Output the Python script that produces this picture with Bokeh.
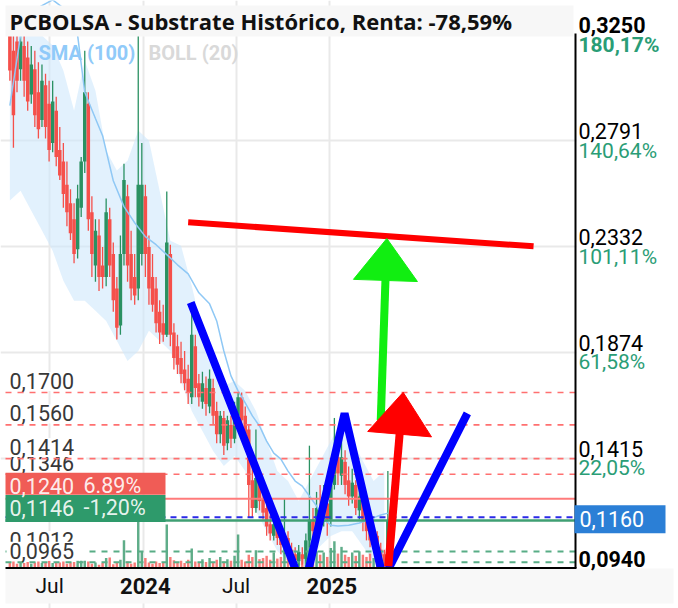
import math
import pandas as pd
from bokeh.plotting import figure
from bokeh.models import Range1d, FixedTicker
from bokeh.embed import file_html
from bokeh.resources import INLINE
from bokeh.core.properties import value

# ------------------------------------------------------------------ data
title_text = "PCBOLSA - Substrate Histórico, Renta: -78,59%"

first_week = "2023-04-14"
opens = [0.3267, 0.3180, 0.3220, 0.3100, 0.3200, 0.3150, 0.2990, 0.3100, 0.3000, 0.2880,
         0.3030, 0.2950, 0.2780, 0.2920, 0.2750, 0.2700, 0.2600, 0.2520, 0.2450, 0.2320,
         0.2500, 0.2700, 0.2950, 0.2480, 0.2250, 0.2380, 0.2250, 0.2200, 0.2450, 0.2300,
         0.2150, 0.1990, 0.2300, 0.2550, 0.2300, 0.2200, 0.2150, 0.2300, 0.2550, 0.2330,
         0.2200, 0.2150, 0.2050, 0.2000, 0.1950, 0.2300, 0.1960, 0.1900, 0.1850, 0.1800,
         0.1760, 0.1680, 0.1900, 0.1740, 0.1660, 0.1720, 0.1640, 0.1720, 0.1620, 0.1520,
         0.1590, 0.1480, 0.1560, 0.1500, 0.1600, 0.1680, 0.1600, 0.1540, 0.1320, 0.1200,
         0.1320, 0.1240, 0.1200, 0.1130, 0.1080, 0.1120, 0.1080, 0.1030, 0.1070, 0.1020,
         0.1000, 0.0970, 0.1000, 0.0980, 0.1060, 0.1150, 0.1100, 0.1200, 0.1140, 0.1220,
         0.1150, 0.1300, 0.1420, 0.1340, 0.1400, 0.1320, 0.1250, 0.1300, 0.1190, 0.1240,
         0.1160, 0.1110, 0.1050, 0.1080, 0.1020, 0.1000, 0.0970]
highs = [0.3300, 0.3267, 0.3267, 0.3260, 0.3267, 0.3220, 0.3200, 0.3180, 0.3130, 0.3120,
         0.3080, 0.3050, 0.3050, 0.2980, 0.2850, 0.2780, 0.2700, 0.2580, 0.2520, 0.2600,
         0.2720, 0.3180, 0.3000, 0.2550, 0.2450, 0.2450, 0.2330, 0.2540, 0.2500, 0.2350,
         0.2200, 0.2380, 0.2690, 0.2600, 0.2400, 0.2300, 0.3300, 0.2780, 0.2600, 0.2380,
         0.2300, 0.2200, 0.2100, 0.2080, 0.2570, 0.2340, 0.2000, 0.1950, 0.1920, 0.1880,
         0.1820, 0.2090, 0.1950, 0.1780, 0.1790, 0.1770, 0.1800, 0.1760, 0.1660, 0.1620,
         0.1620, 0.1600, 0.1600, 0.1660, 0.1700, 0.1700, 0.1640, 0.1560, 0.1400, 0.1540,
         0.1350, 0.1280, 0.1240, 0.1170, 0.1160, 0.1150, 0.1120, 0.1240, 0.1100, 0.1050,
         0.1030, 0.1040, 0.1030, 0.1090, 0.1470, 0.1200, 0.1270, 0.1300, 0.1300, 0.1260,
         0.1380, 0.1590, 0.1480, 0.1530, 0.1450, 0.1380, 0.1370, 0.1320, 0.1300, 0.1270,
         0.1200, 0.1150, 0.1120, 0.1100, 0.1050, 0.1020, 0.1360]
lows = [0.3050, 0.2760, 0.3000, 0.3050, 0.2980, 0.2920, 0.2950, 0.2850, 0.2800, 0.2850,
        0.2800, 0.2700, 0.2740, 0.2680, 0.2620, 0.2500, 0.2420, 0.2360, 0.2260, 0.2280,
        0.2460, 0.2650, 0.2400, 0.2200, 0.2180, 0.2140, 0.2150, 0.2160, 0.2200, 0.2050,
        0.1930, 0.1950, 0.2250, 0.2180, 0.2100, 0.2080, 0.2100, 0.2250, 0.2200, 0.2080,
        0.2050, 0.1960, 0.1910, 0.1920, 0.1940, 0.1900, 0.1800, 0.1780, 0.1740, 0.1710,
        0.1650, 0.1650, 0.1680, 0.1640, 0.1630, 0.1600, 0.1610, 0.1560, 0.1480, 0.1480,
        0.1430, 0.1450, 0.1460, 0.1480, 0.1570, 0.1540, 0.1490, 0.1160, 0.1160, 0.1180,
        0.1190, 0.1150, 0.1080, 0.1060, 0.1060, 0.1040, 0.1000, 0.1000, 0.0980, 0.0965,
        0.0955, 0.0950, 0.0955, 0.0960, 0.1030, 0.1060, 0.1080, 0.1110, 0.1120, 0.1080,
        0.1120, 0.1280, 0.1300, 0.1300, 0.1260, 0.1210, 0.1220, 0.1170, 0.1150, 0.1100,
        0.1060, 0.1030, 0.1020, 0.0990, 0.0965, 0.0950, 0.0960]
closes = [0.3094, 0.2900, 0.3050, 0.3220, 0.3050, 0.2960, 0.3120, 0.2900, 0.2840, 0.3050,
          0.2850, 0.2750, 0.2960, 0.2720, 0.2640, 0.2560, 0.2480, 0.2390, 0.2300, 0.2540,
          0.2700, 0.3000, 0.2450, 0.2300, 0.2400, 0.2200, 0.2200, 0.2480, 0.2250, 0.2100,
          0.1980, 0.2300, 0.2620, 0.2250, 0.2150, 0.2120, 0.2600, 0.2600, 0.2300, 0.2150,
          0.2080, 0.2000, 0.1960, 0.1950, 0.2350, 0.1950, 0.1850, 0.1820, 0.1780, 0.1740,
          0.1700, 0.1950, 0.1720, 0.1680, 0.1740, 0.1650, 0.1760, 0.1600, 0.1520, 0.1600,
          0.1470, 0.1580, 0.1500, 0.1620, 0.1680, 0.1580, 0.1520, 0.1300, 0.1200, 0.1330,
          0.1230, 0.1180, 0.1120, 0.1090, 0.1130, 0.1070, 0.1040, 0.1080, 0.1010, 0.0990,
          0.0975, 0.1010, 0.0980, 0.1060, 0.1150, 0.1100, 0.1200, 0.1140, 0.1230, 0.1150,
          0.1300, 0.1420, 0.1350, 0.1420, 0.1300, 0.1250, 0.1310, 0.1200, 0.1250, 0.1150,
          0.1100, 0.1060, 0.1090, 0.1020, 0.0990, 0.0970, 0.1146]
volumes = [1.0, 1.2, 0.8, 1.0, 0.9, 1.1, 0.8, 1.0, 1.2, 0.9,
           1.0, 1.3, 0.9, 1.1, 1.0, 1.2, 0.8, 1.0, 1.1, 1.4,
           1.6, 6.5, 1.2, 0.8, 1.0, 0.6, 0.9, 1.8, 1.9, 0.7,
           1.0, 1.5, 5.0, 1.2, 0.8, 1.0, 8.5, 3.0, 1.8, 1.0,
           0.8, 1.2, 0.9, 1.1, 7.8, 2.0, 1.4, 1.0, 1.3, 0.9,
           1.5, 3.5, 1.2, 1.0, 1.6, 1.1, 1.8, 1.0, 1.5, 2.0,
           1.2, 1.6, 1.3, 2.2, 6.0, 1.5, 1.2, 2.4, 2.0, 3.2,
           1.6, 1.8, 2.2, 1.5, 2.8, 1.7, 2.0, 3.5, 2.2, 3.0,
           1.8, 2.4, 2.0, 3.2, 5.5, 2.6, 3.0, 2.4, 2.8, 2.0,
           3.6, 4.8, 2.6, 3.8, 2.4, 2.0, 2.8, 2.2, 3.0, 2.4,
           2.0, 2.6, 1.8, 2.2, 1.6, 2.0, 4.5]

# Bollinger band (20) read every third week
band_weeks = list(range(0, 107, 3))
band_upper = [0.3267, 0.3267, 0.3267, 0.3246, 0.3202, 0.3094, 0.2921, 0.3137, 0.3007, 0.2747,
              0.2661, 0.2704, 0.2834, 0.2791, 0.2574, 0.2357, 0.2336, 0.2162, 0.1967, 0.1794,
              0.1729, 0.1750, 0.1707, 0.1620, 0.1490, 0.1360, 0.1317, 0.1230, 0.1317, 0.1404,
              0.1490, 0.1577, 0.1490, 0.1404, 0.1317, 0.1360]
band_lower = [0.2531, 0.2574, 0.2487, 0.2401, 0.2314, 0.2184, 0.2097, 0.2097, 0.2054, 0.2010,
              0.1924, 0.1837, 0.1880, 0.1967, 0.1924, 0.1880, 0.1750, 0.1620, 0.1534, 0.1447,
              0.1382, 0.1425, 0.1360, 0.1187, 0.1100, 0.1014, 0.0970, 0.0949, 0.0970, 0.1035,
              0.1079, 0.1100, 0.1100, 0.1035, 0.0970, 0.0949]

# SMA (100)
sma_weeks = [0, 3, 6, 12, 18, 19, 21, 24, 26, 29, 32, 35, 38, 41, 44, 47, 50, 53, 56, 58,
             60, 62, 64, 66, 68, 70, 72, 74, 76, 78, 80, 82, 84, 86, 88, 90, 92, 95, 98, 101,
             104, 106]
sma_vals = [0.2942, 0.3246, 0.3350, 0.3400, 0.3330, 0.3246, 0.3000, 0.2886, 0.2812, 0.2617,
            0.2505, 0.2435, 0.2375, 0.2340, 0.2297, 0.2253, 0.2214, 0.2132, 0.2084, 0.2010,
            0.1880, 0.1772, 0.1707, 0.1655, 0.1599, 0.1555, 0.1490, 0.1438, 0.1412, 0.1360,
            0.1317, 0.1295, 0.1252, 0.1209, 0.1152, 0.1126, 0.1122, 0.1126, 0.1135, 0.1152,
            0.1170, 0.1178]

# horizontal levels
red_dash_levels = [0.1700, 0.1560, 0.1414, 0.1346]
red_dash_labels = ["0,1700", "0,1560", "0,1414", "0,1346"]
green_dash_levels = [0.1012, 0.0965]
green_dash_labels = ["0,1012", "0,0965"]
red_level, red_level_label, red_level_pct = 0.1240, "0,1240", "6.89%"
green_level, green_level_label, green_level_pct = 0.1146, "0,1146", "-1,20%"
current_price, current_label = 0.1160, "0,1160"

# right scale
price_ticks = [0.3250, 0.2791, 0.2332, 0.1874, 0.1415, 0.0940]
price_labels = ["0,3250", "0,2791", "0,2332", "0,1874", "0,1415", "0,0940"]
pct_labels = ["180,17%", "140,64%", "101,11%", "61,58%", "22,05%"]

# time scale
x_tick_dates = ["2023-07-01", "2024-01-01", "2024-07-01", "2025-01-01"]
x_tick_labels = ["Jul", "2024", "Jul", "2025"]

# drawings
resist_dates = ["2024-03-29", "2026-02-05"]
resist_vals = [0.2437, 0.2333]
w_dates = ["2024-04-03", "2024-11-11", "2025-01-30", "2025-04-16", "2025-09-28"]
w_vals = [0.2090, 0.0844, 0.1610, 0.0892, 0.1610]
green_arrow_dates = ["2025-04-11", "2025-04-23"]
green_arrow_vals = [0.1580, 0.2367]
red_arrow_dates = ["2025-04-26", "2025-05-25"]
red_arrow_vals = [0.0948, 0.1701]

# ------------------------------------------------------------------ layout
W, H = 678, 608
PX_PER_UNIT = 2310.0
Y_TOP = 0.3250 + 34 / PX_PER_UNIT
Y_BOT = Y_TOP - H / PX_PER_UNIT
PX_PER_DAY = 0.50944
MS_DAY = 86400000.0


def ms(t):
    return pd.Timestamp(t).value / 1e6


X0 = ms("2023-07-01") - 96.39 * MS_DAY
X1 = X0 + W / PX_PER_DAY * MS_DAY


def xpx(px):
    return X0 + px / PX_PER_DAY * MS_DAY


def ypx(py):
    return Y_TOP - py / PX_PER_UNIT


def shift(v, dpx):
    return v - dpx / PX_PER_UNIT


def to_screen(xm, yv):
    return ((xm - X0) / MS_DAY * PX_PER_DAY, (Y_TOP - yv) * PX_PER_UNIT)


def to_data(sx, sy):
    return (X0 + sx / PX_PER_DAY * MS_DAY, Y_TOP - sy / PX_PER_UNIT)


AREA_RIGHT = 575
AREA_BOTTOM = (Y_TOP - price_ticks[-1]) * PX_PER_UNIT
VOL_PX = 5.59
RED = "#f5504b"
GREEN = "#2a9162"
PCT_GREEN = "#2a9d76"
FONT = value("Roboto")
MID = "middle"
LBL = "21.5px"

p = figure(width=W, height=H, x_axis_location=None, y_axis_location=None,
           x_range=Range1d(X0, X1), y_range=Range1d(Y_BOT, Y_TOP),
           toolbar_location=None, output_backend="svg", title=None,
           min_border=0, min_border_left=0, min_border_right=0, min_border_top=0,
           min_border_bottom=0)
vol_start = -(H - AREA_BOTTOM) / VOL_PX
p.extra_y_ranges = {"vol": Range1d(vol_start, vol_start + H / VOL_PX)}
p.outline_line_color = None
p.border_fill_color = "white"
p.background_fill_color = "white"
p.styles = {"outline": "2px solid #e3e3e3", "outline-offset": "-5px"}

tick_ms = [ms(d) for d in x_tick_dates]
p.xgrid.ticker = FixedTicker(ticks=tick_ms)
p.ygrid.ticker = FixedTicker(ticks=price_ticks[1:-1])
for g in (p.xgrid, p.ygrid):
    g.grid_line_color = "#e9e9e9"
    g.grid_line_width = 2

# right column mask (hides horizontal grid there)
p.quad(left=[xpx(AREA_RIGHT + 1)], right=[X1], bottom=[Y_BOT], top=[Y_TOP],
       fill_color="white", line_color=None)

# ------------------------------------------------------------------ price data
dates = pd.date_range(first_week, periods=len(opens), freq="7D")
date_ms = [ms(d) for d in dates]
df = pd.DataFrame(dict(date=date_ms, open=opens, high=highs, low=lows,
                       close=closes, vol=volumes))
up = df[df.close >= df.open]
dn = df[df.close < df.open]

p.varea(x=[date_ms[i] for i in band_weeks], y1=band_lower, y2=band_upper,
        fill_color="#cfe7fb", fill_alpha=0.6)

BODY = 6.9 * MS_DAY
p.vbar(x=up.date, top=up.vol, bottom=0, width=BODY * 0.7, y_range_name="vol",
       fill_color=GREEN, line_color=None, fill_alpha=0.75)
p.vbar(x=dn.date, top=dn.vol, bottom=0, width=BODY * 0.7, y_range_name="vol",
       fill_color=RED, line_color=None, fill_alpha=0.75)

p.segment(x0=up.date, y0=up.high, x1=up.date, y1=up.low, line_color=GREEN, line_width=1.3)
p.segment(x0=dn.date, y0=dn.high, x1=dn.date, y1=dn.low, line_color=RED, line_width=1.3)
p.vbar(x=up.date, top=up.close, bottom=up.open, width=BODY, fill_color=GREEN, line_color=None)
p.vbar(x=dn.date, top=dn.open, bottom=dn.close, width=BODY, fill_color=RED, line_color=None)

p.line(x=[date_ms[i] for i in sma_weeks], y=sma_vals, line_color="#8fc8f5", line_width=1.5)

# ------------------------------------------------------------------ levels
xl, xr = xpx(5), xpx(AREA_RIGHT)
n_g = len(green_dash_levels)
p.segment(x0=[xl] * n_g, x1=[xr] * n_g, y0=green_dash_levels, y1=green_dash_levels,
          line_color="#58ad86", line_width=2, line_dash="6 6")
p.segment(x0=[xl], x1=[xr], y0=[current_price], y1=[current_price],
          line_color="#2a2ae8", line_width=2, line_dash="6 5")
p.segment(x0=[xl], x1=[xr], y0=[green_level], y1=[green_level],
          line_color="#3f9f73", line_width=2.5)
p.segment(x0=[xl], x1=[xr], y0=[red_level], y1=[red_level],
          line_color="#ff7b7b", line_width=2)

# left labels painted in the order of the reference (later boxes cover earlier)
order = [0, 1, 3, 2]
lab_vals = [red_dash_levels[i] for i in order] + green_dash_levels
lab_txt = [red_dash_labels[i] for i in order] + green_dash_labels
p.text(x=[xpx(6)] * len(lab_vals), y=lab_vals, text=lab_txt, y_offset=-11,
       text_font=FONT, text_font_size=LBL, text_color="#383838",
       text_align="left", text_baseline=MID,
       background_fill_color="white", padding=dict(left=3, right=12, top=1, bottom=2))

n_r = len(red_dash_levels)
p.segment(x0=[xl] * n_r, x1=[xr] * n_r, y0=red_dash_levels, y1=red_dash_levels,
          line_color="#ff7070", line_width=1.6, line_dash="6 6")

box_l, box_r = xpx(5), xpx(165)
p.quad(left=[box_l], right=[box_r], top=[shift(red_level, -26)], bottom=[shift(red_level, -4)],
       fill_color="#f05c56", line_color=None)
p.quad(left=[box_l], right=[box_r], top=[shift(green_level, -25.5)],
       bottom=[shift(green_level, 1.5)], fill_color="#2e9a6b", line_color=None)
for lvl, t1, t2 in [(red_level, red_level_label, red_level_pct),
                    (green_level, green_level_label, green_level_pct)]:
    p.text(x=[xpx(9), xpx(83)], y=[lvl, lvl], text=[t1, t2], y_offset=-13,
           text_font=FONT, text_font_size=LBL, text_color="white", text_alpha=0.9,
           text_align="left", text_baseline=MID)

# ------------------------------------------------------------------ title & legend
p.quad(left=[xpx(5)], right=[xpx(573)], bottom=[ypx(36)], top=[ypx(5)],
       fill_color="#f7f7f7", line_color=None)
p.text(x=[xpx(9)], y=[ypx(20)], text=[title_text], text_font=value("Open Sans"),
       text_font_style="bold", text_font_size="22px", text_color="#111111",
       text_align="left", text_baseline=MID)
p.text(x=[xpx(38), xpx(148)], y=[ypx(52.5), ypx(52.5)], text=["SMA (100)", "BOLL (20)"],
       text_font=FONT, text_font_style="bold", text_font_size="20px",
       text_color=["#90caf9", "#d9d9d9"], text_align="left", text_baseline=MID)

# ------------------------------------------------------------------ drawings
p.line(x=[ms(d) for d in resist_dates], y=resist_vals, line_color="#ff0000", line_width=6)
p.line(x=[ms(d) for d in w_dates], y=w_vals, line_color="#0000ff", line_width=8)


def arrow(dates_, vals_, color):
    tail = (ms(dates_[0]), vals_[0])
    tip = (ms(dates_[1]), vals_[1])
    tx, ty = to_screen(*tail)
    hx, hy = to_screen(*tip)
    dx, dy = hx - tx, hy - ty
    L = math.hypot(dx, dy)
    ux, uy = dx / L, dy / L
    head_len, head_w = 42, 64
    bx, by = hx - ux * head_len, hy - uy * head_len
    nx, ny = -uy, ux
    c1 = to_data(bx + nx * head_w / 2, by + ny * head_w / 2)
    c2 = to_data(bx - nx * head_w / 2, by - ny * head_w / 2)
    base = to_data(bx + ux * 4, by + uy * 4)
    p.segment(x0=[tail[0]], y0=[tail[1]], x1=[base[0]], y1=[base[1]],
              line_color=color, line_width=8)
    p.patch(x=[tip[0], c1[0], c2[0]], y=[tip[1], c1[1], c2[1]],
            fill_color=color, line_color=color, line_width=1)


arrow(green_arrow_dates, green_arrow_vals, "#11ee11")
arrow(red_arrow_dates, red_arrow_vals, "#ff0000")

# ------------------------------------------------------------------ bottom time scale
p.quad(left=[xpx(5)], right=[xpx(673)], top=[ypx(568)], bottom=[ypx(603)],
       fill_color="#f8f8f8", line_color=None)
p.segment(x0=[xpx(5)], x1=[xpx(AREA_RIGHT + 1)], y0=[price_ticks[-1]], y1=[price_ticks[-1]],
          line_color="black", line_width=2)
jul = [i for i, l in enumerate(x_tick_labels) if l == "Jul"]
yrs = [i for i, l in enumerate(x_tick_labels) if l != "Jul"]
p.text(x=[tick_ms[i] for i in jul], y=[price_ticks[-1]] * len(jul),
       text=[x_tick_labels[i] for i in jul], y_offset=18,
       text_font=FONT, text_font_size="21px", text_color="#111111",
       text_align="center", text_baseline=MID)
p.text(x=[tick_ms[i] for i in yrs], y=[price_ticks[-1]] * len(yrs),
       text=[x_tick_labels[i] for i in yrs], y_offset=17.5, x_offset=2,
       text_font=FONT, text_font_size="22px", text_font_style="bold", text_color="#111111",
       text_align="center", text_baseline=MID)

# ------------------------------------------------------------------ right scale
xb = xpx(AREA_RIGHT)
p.segment(x0=[xb], x1=[xb], y0=[price_ticks[-1]], y1=[ypx(33)], line_color="black",
          line_width=2)
rx = xpx(578)
reg = [1, 2, 3, 4]
p.text(x=[rx] * 4, y=[price_ticks[i] for i in reg], text=[price_labels[i] for i in reg],
       y_offset=-9.5, text_font=FONT, text_font_size=LBL, text_color="black",
       text_align="left", text_baseline=MID)
p.text(x=[rx] * 2, y=[price_ticks[0], price_ticks[5]], text=[price_labels[0], price_labels[5]],
       y_offset=-9.5, text_font=FONT, text_font_size=LBL, text_font_style="bold",
       text_color="black", text_align="left", text_baseline=MID)
p.text(x=[rx] * 4, y=[price_ticks[i] for i in reg], text=[pct_labels[i] for i in reg],
       y_offset=10, text_font=FONT, text_font_size="21px", text_color=PCT_GREEN,
       text_align="left", text_baseline=MID)
p.text(x=[rx], y=[price_ticks[0]], text=[pct_labels[0]], y_offset=10,
       text_font=FONT, text_font_size="21px", text_font_style="bold", text_color=PCT_GREEN,
       text_align="left", text_baseline=MID)

p.quad(left=[xpx(574)], right=[xpx(665)], top=[shift(current_price, -12)],
       bottom=[shift(current_price, 16)], fill_color="#2b7fd6", line_color=None)
p.text(x=[xpx(579)], y=[current_price], text=[current_label], y_offset=1.5,
       text_font=FONT, text_font_size=LBL, text_color="white",
       text_align="left", text_baseline=MID)

open("out.html", "w").write(file_html(p, INLINE))
